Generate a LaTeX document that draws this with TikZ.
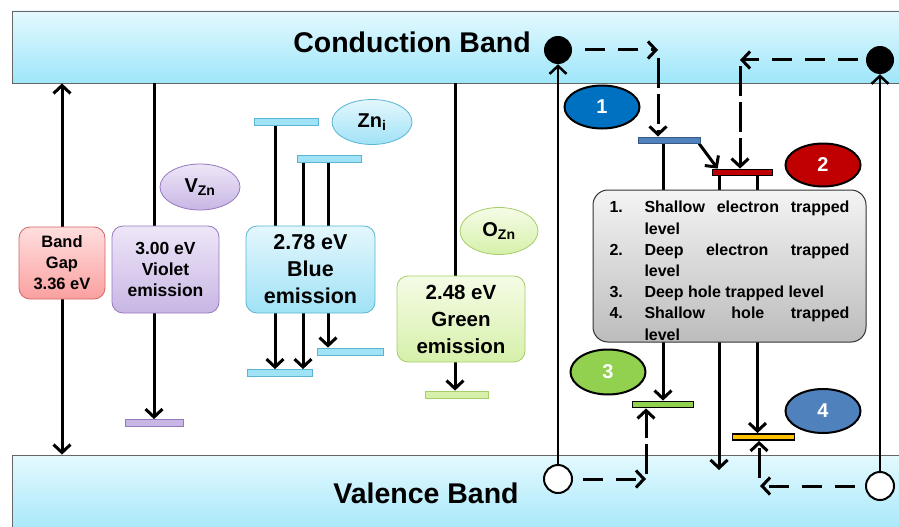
\documentclass[tikz,border=0pt]{standalone}
\usepackage{fontspec}
\setmainfont{Liberation Sans}
\usetikzlibrary{shapes.geometric,arrows.meta}
\pgfdeclarelayer{bands}
\pgfdeclarelayer{links}
\pgfsetlayers{bands,links,main}
% colours
\definecolor{bandtop}{RGB}{228,249,254}
\definecolor{bandbot}{RGB}{158,230,250}
\definecolor{gaptop}{RGB}{255,222,222}\definecolor{gapbot}{RGB}{250,160,160}\definecolor{gapline}{RGB}{215,100,100}
\definecolor{viotop}{RGB}{238,230,248}\definecolor{viobot}{RGB}{200,182,228}\definecolor{violine}{RGB}{150,120,190}
\definecolor{blutop}{RGB}{228,247,253}\definecolor{blubot}{RGB}{160,226,246}\definecolor{bluline}{RGB}{90,180,210}
\definecolor{grntop}{RGB}{245,252,230}\definecolor{grnbot}{RGB}{214,240,170}\definecolor{grnline}{RGB}{165,205,105}
\definecolor{greytop}{RGB}{244,244,244}\definecolor{greybot}{RGB}{188,188,188}
\definecolor{trapone}{RGB}{0,112,192}\definecolor{traptwo}{RGB}{192,0,0}
\definecolor{trapthree}{RGB}{146,208,80}\definecolor{trapfour}{RGB}{79,129,189}
\definecolor{shallowbar}{RGB}{79,129,189}\definecolor{orangebar}{RGB}{255,192,0}
\tikzset{
  band/.style={rectangle, draw=black!60, line width=0.8pt, top color=bandtop, bottom color=bandbot, minimum width=898pt, inner sep=0pt},
  bandtext/.style={font=\bfseries\fontsize{28.5}{30}\selectfont},
  emibox/.style={rectangle, rounded corners=11pt, line width=0.8pt, draw=#1line, top color=#1top, bottom color=#1bot, align=center, inner sep=0pt},
  defect/.style={ellipse, line width=0.8pt, draw=#1line, top color=#1top, bottom color=#1bot, inner sep=0pt, font=\bfseries\fontsize{20}{20}\selectfont},
  lvl/.style={rectangle, line width=0.8pt, draw=#1line, fill=#1bot, minimum height=7pt, inner sep=0pt},
  trap/.style={ellipse, draw=black, line width=2pt, fill=#1, text=white, minimum width=75pt, minimum height=43pt, font=\bfseries\fontsize{20}{20}\selectfont},
  trapbar/.style={rectangle, draw=black, line width=1.8pt, fill=#1, minimum height=6pt, inner sep=0pt},
  electron/.style={circle, fill=black, minimum size=28pt, inner sep=0pt},
  hole/.style={circle, draw=black, line width=2pt, fill=white, minimum size=28pt, inner sep=0pt},
  jump/.style={line width=3pt, -{Straight Barb[length=8pt,width=17pt]}},
  hop/.style={jump, dash pattern=on 20pt off 13pt},
  vhop/.style={jump, dash pattern=on 30pt off 6pt}
}
\newcommand\trapitem[2]{\par\hangindent=35pt\hangafter=1\noindent\makebox[35pt][l]{#1}#2}
\begin{document}
\begin{tikzpicture}[x=1pt,y=-1pt,line cap=butt]
\useasboundingbox (0,0) rectangle (899,527);
% bands
\begin{pgfonlayer}{bands}
\node[band, minimum height=72pt] (cb) at (461,47) {};
\node[band, minimum height=86pt] (vb) at (461,498) {};
\end{pgfonlayer}
\node[bandtext] (cbl) at (412,42) {Conduction Band};
\node[bandtext] (vbl) at (426,493) {Valence Band};

% defect levels, left half
\node[lvl=vio, minimum width=58pt] (lvlV) at (154,423) {};
\node[lvl=blu, minimum width=64pt] (lvlB1) at (286,122) {};
\node[lvl=blu, minimum width=64pt] (lvlB2) at (329,158.5) {};
\node[lvl=blu, minimum width=65pt] (lvlB3) at (279.5,373) {};
\node[lvl=blu, minimum width=66pt] (lvlB4) at (350,351.5) {};
\node[lvl=grn, minimum width=63pt] (lvlG) at (456.5,394.5) {};

\node[defect=vio, minimum width=80pt, minimum height=46pt] (vzn) at (200,187) {V\textsubscript{Zn}};
\node[defect=blu, minimum width=80pt, minimum height=45pt] (zni) at (372,122) {Zn\textsubscript{i}};
\node[defect=grn, minimum width=78pt, minimum height=47pt] (ozn) at (499,231) {O\textsubscript{Zn}};

\node[emibox=gap, minimum width=86pt, minimum height=72pt, font=\bfseries\fontsize{16.5}{21}\selectfont] (gap) at (62,263) {Band\\Gap\\3.36 eV};
\node[emibox=vio, minimum width=107pt, minimum height=87pt, font=\bfseries\fontsize{17.5}{21}\selectfont] (violet) at (165.5,269.5) {3.00 eV\\Violet\\emission};
\node[emibox=blu, minimum width=129pt, minimum height=87pt, font=\bfseries\fontsize{21.5}{27}\selectfont] (blue) at (310.5,269.5) {2.78 eV\\Blue\\emission};
\node[emibox=grn, minimum width=128pt, minimum height=86pt, font=\bfseries\fontsize{20.5}{27}\selectfont] (green) at (461,319) {2.48 eV\\Green\\emission};

% trap levels, right half
\node[trapbar=shallowbar, minimum width=62pt, draw=shallowbar!70!black, line width=1pt] (lvl1) at (669.5,140) {};
\node[trapbar=traptwo, minimum width=60pt] (lvl2) at (742.5,172.5) {};
\node[trapbar=trapthree, minimum width=61pt] (lvl3) at (663,404.5) {};
\node[trapbar=orangebar, minimum width=62pt] (lvl4) at (763.5,437) {};

\node[trap=trapone] (t1) at (602,107) {1};
\node[trap=traptwo] (t2) at (823,165) {2};
\node[trap=trapthree, minimum height=45pt] (t3) at (608,372) {3};
\node[trap=trapfour, minimum height=44pt] (t4) at (823,411) {4};

\node[rectangle, rounded corners=15pt, draw=black!80, line width=1pt, top color=greytop, bottom color=greybot,
  minimum width=273pt, minimum height=152pt, text width=240pt, align=justify, inner sep=0pt,
  font=\bfseries\fontsize{16}{21.2}\selectfont] (legend) at (729.5,266) {%
  \hyphenpenalty=10000\exhyphenpenalty=10000
  \trapitem{1.}{Shallow electron trapped\linebreak level}
  \trapitem{2.}{Deep electron trapped\linebreak level}
  \trapitem{3.}{Deep hole trapped level}
  \trapitem{4.}{Shallow hole trapped\linebreak level}\par};

\node[electron] (eL) at (558,50) {};
\node[electron] (eR) at (880,60) {};
\node[hole] (hL) at (558,479) {};
\node[hole] (hR) at (880,486) {};
\coordinate (c1) at (658,50);
\coordinate (c2) at (740,60);
\coordinate (c3) at (646,479);
\coordinate (c4) at (760,486);
\coordinate (drop) at (719,470);

% transitions
\begin{pgfonlayer}{links}
\draw[jump, {Straight Barb[length=8pt,width=17pt]}-{Straight Barb[length=8pt,width=17pt]}] (gap.north |- cb.south) -- (gap.south |- vb.north);
\draw[jump] (lvlV.north |- cb.south) -- (lvlV.north);
\draw[jump] ([xshift=-11pt]lvlB1.south) -- ([xshift=-11pt]lvlB1.south |- lvlB3.north);
\draw[jump] ([xshift=-26pt]lvlB2.south) -- ([xshift=-26pt]lvlB2.south |- lvlB3.north);
\draw[jump] ([xshift=-1pt]lvlB2.south) -- ([xshift=-1pt]lvlB2.south |- lvlB4.north);
\draw[jump] ([xshift=-1.5pt]lvlG.north |- cb.south) -- ([xshift=-1.5pt]lvlG.north);

\draw[jump, line width=2.5pt] (hL.north) -- (eL.south);
\draw[jump, line width=2.5pt] (hR.north) -- (eR.south);
\draw[hop] ([xshift=13pt]eL.east) -- (c1);
\draw[vhop] ([yshift=-8pt]c1) -- (c1 |- lvl1.north);
\draw[jump] ([xshift=-2pt]lvl1.south east) -- ([xshift=6pt]lvl2.north west);
\draw[hop] ([xshift=-8pt]eR.west) -- (c2);
\draw[vhop] ([yshift=-6pt]c2) -- (c2 |- lvl2.north);
\draw[jump] (lvl1.south -| lvl3.north) -- (lvl3.north);
\draw[jump] (lvl2.south -| drop) -- (drop);
\draw[jump] ([xshift=15pt]lvl2.south) -- ([xshift=15pt]lvl2.south |- lvl4.north);
\draw[hop] ([xshift=10pt]hL.east) -- (c3);
\draw[vhop] ([yshift=5pt]c3) -- (c3 |- lvl3.south);
\draw[hop] ([xshift=-10pt]hR.west) -- (c4);
\draw[vhop] ([yshift=8pt,xshift=-1pt]c4) -- ([xshift=-1pt]c4 |- lvl4.south);
\end{pgfonlayer}
\end{tikzpicture}
\end{document}
